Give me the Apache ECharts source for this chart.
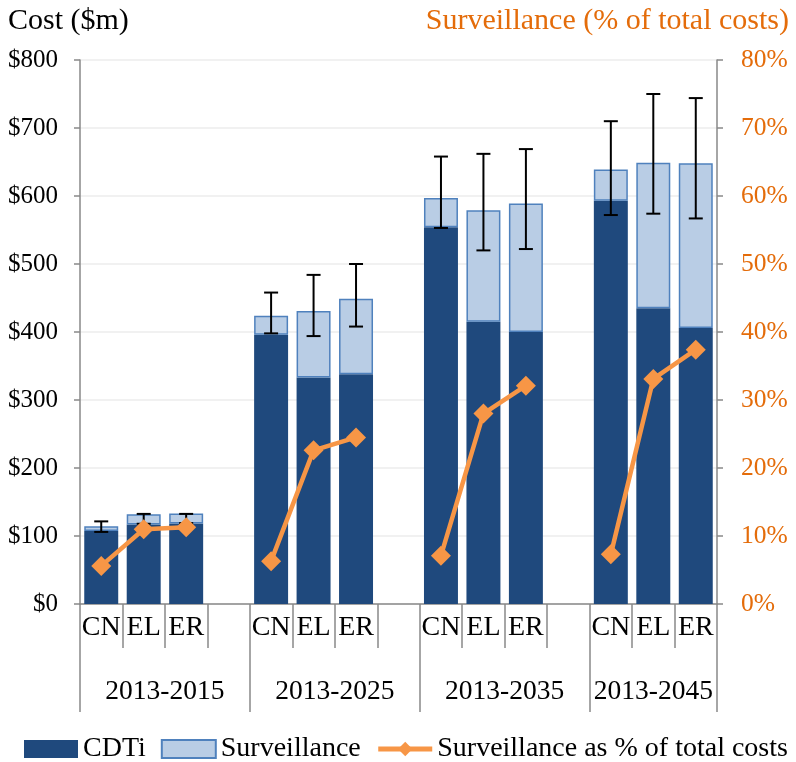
<!DOCTYPE html>
<html><head><meta charset="utf-8">
<script src="https://cdn.jsdelivr.net/npm/echarts@6/dist/echarts.min.js"></script>
<style>html,body{margin:0;padding:0;background:#fff}#c{width:796px;height:762px}</style>
</head><body><div id="c"></div><script>
// ---- data ----
const categories = ['CN','EL','ER','','CN','EL','ER','','CN','EL','ER','','CN','EL','ER'];
const periods = ['2013-2015','2013-2025','2013-2035','2013-2045'];
const periodStart = [0, 4, 8, 12];
const periodSpan = [4, 4, 4, 3];
const cdti =         [107.5, 117, 118.5, '-', 396, 333, 338, '-', 554, 415, 400, '-', 593, 435, 406];
const surveillance = [7, 15, 14.5, '-', 28, 98, 111, '-', 43, 164, 189, '-', 46, 214, 242];
const pctSurveillance = [5.6, 11.0, 11.3, '-', 6.3, 22.6, 24.5, '-', 7.1, 28.0, 32.1, '-', 7.3, 33.1, 37.4];
const errLow =  [106, 118, 119, '-', 398, 394, 408, '-', 553, 520, 522, '-', 572, 574, 567];
const errHigh = [121.5, 132.5, 132.5, '-', 458, 484, 500, '-', 658, 662, 669, '-', 710, 750, 744];
const costAxis = {min: 0, max: 800, interval: 100};
const pctAxis = {min: 0, max: 80, interval: 10};

// ---- chart ----
const FONT = '"Liberation Serif", "Times New Roman", serif';
const ORANGE_TXT = '#E46C0A';
const AXIS_C = '#898989';
const errData = categories.map((c, i) => errLow[i] === '-' ? null : [i, errLow[i], errHigh[i]]).filter(Boolean);
const labelCenters = periodStart.map((s, i) => s + periodSpan[i] / 2);

const chart = echarts.init(document.getElementById('c'), null, {renderer: 'canvas'});
chart.setOption({
  animation: false,
  backgroundColor: '#fff',
  textStyle: {fontFamily: FONT},
  title: [
    {text: 'Cost ($m)', left: 3, top: 1, textStyle: {fontFamily: FONT, fontSize: 30, fontWeight: 'normal', color: '#000'}},
    {text: 'Surveillance (% of total costs)', right: 2, top: 1, textStyle: {fontFamily: FONT, fontSize: 30, fontWeight: 'normal', color: ORANGE_TXT}}
  ],
  legend: {
    data: [
      {name: 'CDTi', icon: 'rect'},
      {name: 'Surveillance', icon: 'rect'},
      {name: 'Surveillance as % of total costs', lineStyle: {width: 5, color: '#F79646'}, itemStyle: {color: '#F79646'}}
    ],
    left: 24, right: 0, top: 735, padding: 0,
    itemWidth: 54, itemHeight: 18, itemGap: 15,
    textStyle: {fontFamily: FONT, fontSize: 28, color: '#000'}
  },
  grid: {left: 80, right: 79, top: 60, bottom: 158, containLabel: false},
  xAxis: [
    {
      type: 'category', data: categories, boundaryGap: true,
      axisLine: {lineStyle: {color: AXIS_C, width: 1.5}},
      axisTick: {show: true, interval: 0, length: 44, lineStyle: {color: AXIS_C, width: 1.5}},
      axisLabel: {interval: 0, margin: 10, fontFamily: FONT, fontSize: 28, color: '#000'},
      splitLine: {show: false}
    },
    {
      type: 'value', position: 'bottom', min: 0, max: categories.length,
      axisLine: {show: false},
      splitLine: {show: false},
      axisTick: {show: true, customValues: periodStart.concat([categories.length]), length: 108, lineStyle: {color: AXIS_C, width: 1.5}},
      axisLabel: {
        customValues: labelCenters, margin: 74, fontFamily: FONT, fontSize: 27.5, color: '#000',
        formatter: v => { const i = labelCenters.indexOf(v); return i >= 0 ? periods[i] : ''; }
      }
    }
  ],
  yAxis: [
    {
      type: 'value', min: costAxis.min, max: costAxis.max, interval: costAxis.interval, position: 'left',
      axisLine: {show: true, lineStyle: {color: AXIS_C, width: 1.5}},
      axisTick: {show: true, length: 6, lineStyle: {color: AXIS_C, width: 1.5}},
      axisLabel: {margin: 22, fontFamily: FONT, fontSize: 25, color: '#000', formatter: v => '$' + v},
      splitLine: {show: true, lineStyle: {color: '#EDEDED', width: 1.5}}
    },
    {
      type: 'value', min: pctAxis.min, max: pctAxis.max, interval: pctAxis.interval, position: 'right',
      axisLine: {show: true, lineStyle: {color: AXIS_C, width: 1.5}},
      axisTick: {show: true, length: 6, lineStyle: {color: AXIS_C, width: 1.5}},
      axisLabel: {margin: 24, fontFamily: FONT, fontSize: 25.5, color: ORANGE_TXT, formatter: v => v + '%'},
      splitLine: {show: false}
    }
  ],
  series: [
    {
      name: 'CDTi', type: 'bar', stack: 'cost', data: cdti, barCategoryGap: '20%',
      itemStyle: {color: '#1F497D', borderColor: '#1F497D', borderWidth: 0},
      z: 2
    },
    {
      name: 'Surveillance', type: 'bar', stack: 'cost', data: surveillance, barCategoryGap: '20%',
      itemStyle: {color: '#B9CDE5', borderColor: '#4F81BD', borderWidth: 1.5},
      z: 2
    },
    {
      name: 'errors', type: 'custom', data: errData, z: 3,
      encode: {x: 0, y: [1, 2]},
      renderItem: function (params, api) {
        const x = api.value(0);
        const lo = api.coord([x, api.value(1)]);
        const hi = api.coord([x, api.value(2)]);
        const w = 7;
        const st = {stroke: '#000', lineWidth: 2};
        return {type: 'group', children: [
          {type: 'line', shape: {x1: lo[0], y1: lo[1], x2: hi[0], y2: hi[1]}, style: st},
          {type: 'line', shape: {x1: lo[0] - w, y1: lo[1], x2: lo[0] + w, y2: lo[1]}, style: st},
          {type: 'line', shape: {x1: hi[0] - w, y1: hi[1], x2: hi[0] + w, y2: hi[1]}, style: st}
        ]};
      }
    },
    {
      name: 'Surveillance as % of total costs', type: 'line', yAxisIndex: 1, data: pctSurveillance,
      connectNulls: false, symbol: 'diamond', symbolSize: [20, 20], showSymbol: true,
      lineStyle: {color: '#F79646', width: 4.5},
      itemStyle: {color: '#F79646'},
      z: 4
    }
  ]
});
</script></body></html>
